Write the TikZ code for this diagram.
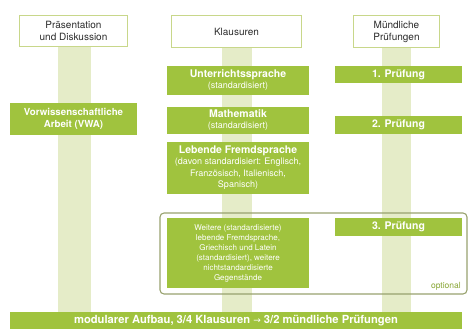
\documentclass[tikz,border=0pt]{standalone}
\usepackage{fontspec}
\setmainfont{TeX Gyre Heros}
\newfontfamily\arrowfont{DejaVu Sans}
\definecolor{boxgreen}{HTML}{A0C33E}
\definecolor{barpale}{HTML}{E5ECC8}
\definecolor{hdrline}{HTML}{C8D78A}
\definecolor{frameol}{HTML}{98A26E}
\definecolor{txtgray}{HTML}{2B2B2B}
\tikzset{
  gbox/.style={fill=boxgreen, draw=none, text=white, align=center, inner sep=0pt,
    font=\fontsize{10.5}{12.5}\selectfont\bfseries},
  hbox/.style={draw=hdrline, line width=1.2pt, fill=white, text=txtgray, align=center,
    inner sep=0pt, font=\fontsize{10}{12}\selectfont},
  barfill/.style={fill=barpale, draw=none},
}
\newcommand{\smalltxt}[1]{{\fontsize{9}{12}\selectfont\mdseries #1}}
\begin{document}
\begin{tikzpicture}[x=1pt,y=-1pt]
\useasboundingbox (0,0) rectangle (469,329);
% coordinates for the pale bars
\coordinate (b1t) at (58,47);  \coordinate (b1b) at (91,312);
\coordinate (b2t) at (222,48); \coordinate (b2b) at (252,312);
\coordinate (b3t) at (382,48); \coordinate (b3b) at (411,312);
\fill[barfill] (b1t) rectangle (b1b);
\fill[barfill] (b2t) rectangle (b2b);
\fill[barfill] (b3t) rectangle (b3b);
% headers
\node[hbox, minimum width=108pt, minimum height=31pt] (h1) at (73.5,31) {Präsentation\\und Diskussion};
\node[hbox, minimum width=130pt, minimum height=32pt] (h2) at (236.5,31.5) {Klausuren};
\node[hbox, minimum width=86pt, minimum height=32pt] (h3) at (396.5,31.5) {Mündliche\\Prüfungen};
% optional frame
\draw[frameol, line width=1.1pt, rounded corners=4pt] (160,213) rectangle (467,294);
\node[text=boxgreen!85!black, font=\fontsize{8.5}{10}\selectfont, anchor=base east, inner sep=0pt] (opt) at (461,288) {optional};
% column 1
\node[gbox, minimum width=127pt, minimum height=32pt, font=\fontsize{9.7}{12.5}\selectfont\bfseries] (vwa) at (73.5,119) {Vorwissenschaftliche\\Arbeit (VWA)};
% column 2
\node[gbox, minimum width=142pt, minimum height=29pt] (u) at (238,80.5) {Unterrichtssprache\\[-1.5pt]\smalltxt{(standardisiert)}};
\node[gbox, minimum width=142pt, minimum height=27pt] (m) at (238,120.5) {Mathematik\\[-1.5pt]\smalltxt{(standardisiert)}};
\node[gbox, minimum width=142pt, minimum height=52pt] (l) at (238,168) {Lebende Fremdsprache\\[-1.5pt]\smalltxt{(davon standardisiert: Englisch,}\\[-1pt]\smalltxt{Französisch, Italienisch,}\\[-1pt]\smalltxt{Spanisch)}};
\node[gbox, minimum width=142pt, minimum height=70pt, font=\fontsize{8}{10}\selectfont] (w) at (238,253) {Weitere (standardisierte)\\lebende Fremdsprache,\\Griechisch und Latein\\(standardisiert), weitere\\nichtstandardisierte\\Gegenstände};
% column 3
\node[gbox, minimum width=127pt, minimum height=17pt] (p1) at (398.5,74.5) {1. Prüfung};
\node[gbox, minimum width=127pt, minimum height=18pt] (p2) at (398.5,125) {2. Prüfung};
\node[gbox, minimum width=127pt, minimum height=18pt] (p3) at (398.5,227) {3. Prüfung};
% bottom bar
\node[gbox, minimum width=452pt, minimum height=17pt, font=\fontsize{11.2}{13}\selectfont\bfseries] (bot) at (236,320.5) {modularer Aufbau, 3/4 Klausuren {\arrowfont\mdseries\fontsize{9}{13}\selectfont →} 3/2 mündliche Prüfungen};
\end{tikzpicture}
\end{document}
